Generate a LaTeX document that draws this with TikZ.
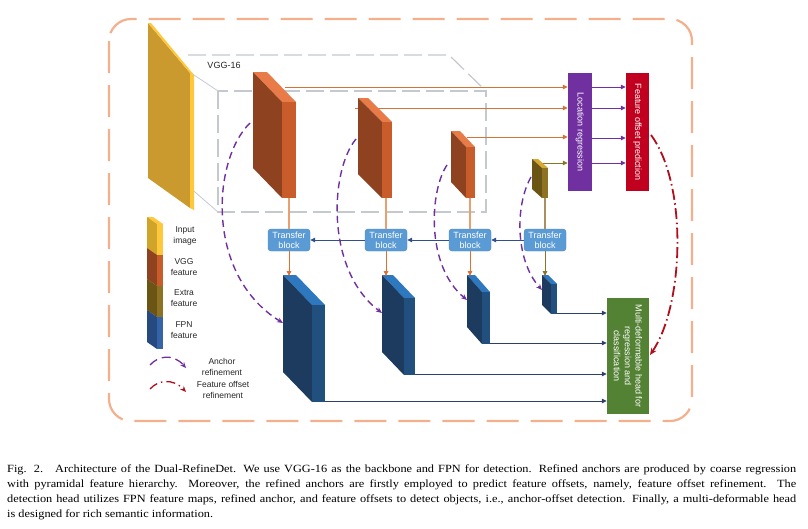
\documentclass[tikz,border=0pt]{standalone}
\usepackage{fontspec}
\setmainfont{Liberation Serif}
\setsansfont{Liberation Sans}
\newfontfamily\capfont[FakeStretch=1.12]{Liberation Serif}
\usetikzlibrary{arrows.meta}
\definecolor{vggF}{HTML}{8E4220}
\definecolor{vggS}{HTML}{C85C2A}
\definecolor{vggT}{HTML}{E87B48}
\definecolor{extF}{HTML}{6B5514}
\definecolor{extS}{HTML}{8C7222}
\definecolor{extT}{HTML}{D9A830}
\definecolor{fpnF}{HTML}{1C3B5E}
\definecolor{fpnS}{HTML}{21507F}
\definecolor{fpnT}{HTML}{2E78C0}
\definecolor{legB}{HTML}{26497F}
\definecolor{legBS}{HTML}{3565A8}
\definecolor{inF}{HTML}{CA9A2E}
\definecolor{inS}{HTML}{FFC83A}
\definecolor{outerC}{HTML}{F4B08C}
\definecolor{cubeC}{HTML}{C4C9D0}
\definecolor{orL}{HTML}{D2733A}
\definecolor{orV}{HTML}{E8A070}
\definecolor{orA}{HTML}{E07030}
\definecolor{oliveL}{HTML}{8C7426}
\definecolor{oliveV}{HTML}{A89060}
\definecolor{tbC}{HTML}{5B9BD5}
\definecolor{navyL}{HTML}{2F4F8F}
\definecolor{headL}{HTML}{2E3F6A}
\definecolor{purp}{HTML}{7030A0}
\definecolor{redC}{HTML}{C0001E}
\definecolor{redL}{HTML}{B0101E}
\definecolor{greenC}{HTML}{548235}
\newcommand{\fblk}[8]{%
  \fill[#8T] (#2,#5) -- (#2+#4,#5) -- (#3+#4,#5+#7) -- (#3,#5+#7) -- cycle;
  \fill[#8F] (#2,#5) -- (#3,#5+#7) -- (#3,#6+#7) -- (#2,#6) -- cycle;
  \fill[#8S] (#3,#5+#7) -- (#3+#4,#5+#7) -- (#3+#4,#6+#7) -- (#3,#6+#7) -- cycle;
  \coordinate (#1-bot) at (#3+#4/2,#6+#7);
  \coordinate (#1-top) at (#2+#4/2,#5+1);
  \coordinate (#1-br) at (#3+#4,#6+#7-1);
}
\tikzset{
  arr/.style={-{Triangle[length=5pt,width=4.5pt]}},
  outer/.style={draw=outerC, line width=2.2pt, dash pattern=on 32pt off 12pt, rounded corners=22pt},
  cube/.style={draw=cubeC, line width=1.2pt, dash pattern=on 18pt off 6pt},
  tbox/.style={rounded corners=3pt, fill=tbC, draw=tbC!85!black, line width=0.4pt, text=white, align=center,
    minimum width=42pt, minimum height=22pt, inner sep=0pt, font=\sffamily\fontsize{9}{10}\selectfont},
  rbox/.style={minimum width=24pt, minimum height=118pt, inner sep=0pt},
  rtxt/.style={rotate=-90, text=white, align=center, inner sep=0pt, font=\sffamily\fontsize{9}{10.8}\selectfont},
  lab/.style={align=center, inner sep=0pt, font=\sffamily\fontsize{8.5}{10.5}\selectfont, text=black!85},
  anch/.style={draw=purp, line width=1.4pt, dash pattern=on 7pt off 4.5pt, -{Stealth[length=6pt,width=5pt]}},
  offs/.style={draw=redL, line width=1.8pt, dash pattern=on 11pt off 3.5pt on 1.5pt off 3.5pt, -{Stealth[length=7pt,width=6pt]}}
}
\begin{document}
\begin{tikzpicture}[x=1pt,y=-1pt]
\useasboundingbox (0,0) rectangle (808,528);
\fill[white] (0,0) rectangle (808,528);
% outer dashed frame
\draw[outer] (109,19) rectangle (692,421);
% VGG-16 cube
\draw[cube] (218,91) rectangle (486,212);
\draw[cube] (188,55) -- (449,55) -- (486,91);
\draw[cubeC, line width=0.8pt] (188,71) -- (218,91);
\draw[cubeC, line width=0.8pt] (188,186) -- (218,212);
\node[lab, font=\sffamily\fontsize{9}{10}\selectfont] (vgglab) at (224,65) {VGG-16};
% input image
\fill[inF] (148,23) -- (190,73) -- (190,208) -- (148,178) -- cycle;
\fill[inS] (190,73) -- (194,75) -- (194,210) -- (190,208) -- cycle;
\fill[inS] (148,23) -- (151,23) -- (194,75) -- (190,73) -- cycle;
% boxes
\node[rbox, fill=purp] (loc) at (580,132) {};
\node[rtxt] at (loc.center) {Location regression};
\node[rbox, fill=redC, minimum width=23pt] (fo) at (637.5,132) {};
\node[rtxt] at (fo.center) {Feature offset prediction};
\node[rbox, fill=greenC, minimum width=42pt, minimum height=116pt] (head) at (628,356) {};
\node[rtxt] at (head.center) {Multi-deformable head for\\regression and\\classification};
% horizontal lines to location regression
\coordinate (o1) at (285,87);
\coordinate (o2) at (355,108);
\coordinate (o3) at (467,137);
\coordinate (o4) at (542,163);
\draw[orL, line width=1pt, arr] (o1) -- (o1 -| loc.west);
\draw[orL, line width=1pt, arr] (o2) -- (o2 -| loc.west);
\draw[orL, line width=1pt, arr] (o3) -- (o3 -| loc.west);
\draw[oliveL, line width=1pt, arr] (o4) -- (o4 -| loc.west);
\foreach \yy in {87,108,138,163}{
  \draw[purp, line width=1pt, arr] (loc.east |- 0,\yy) -- (fo.west |- 0,\yy);
}
% VGG blocks and extra block
\fblk{b1}{253}{282}{14}{72}{168}{30}{vgg}
\fblk{b2}{358}{382}{10}{98}{174}{24}{vgg}
\fblk{b3}{451}{466}{9}{131}{182}{16}{vgg}
\fblk{b4}{532}{542}{6}{159}{189}{9}{ext}
% FPN blocks
\fblk{f1}{283}{312}{13}{275}{372}{30}{fpn}
\fblk{f2}{382}{404}{11}{275}{352}{23}{fpn}
\fblk{f3}{467}{482}{8}{275}{327}{17}{fpn}
\fblk{f4}{542}{551}{6}{275}{305}{9}{fpn}
% transfer blocks
\node[tbox] (t1) at (289,240) {Transfer\\block};
\node[tbox] (t2) at (386,240) {Transfer\\block};
\node[tbox] (t3) at (470,240) {Transfer\\block};
\node[tbox] (t4) at (545,240) {Transfer\\block};
\draw[orV, line width=1.2pt] (t1.north |- b1-bot) -- (t1.north);
\draw[orV, line width=1.2pt] (t2.north |- b2-bot) -- (t2.north);
\draw[orV, line width=1.2pt] (t3.north |- b3-bot) -- (t3.north);
\draw[oliveV, line width=1.2pt] (t4.north |- b4-bot) -- (t4.north);
\draw[orA, line width=1pt, arr] (t1.south) -- (t1.south |- f1-top);
\draw[orA, line width=1pt, arr] (t2.south) -- (t2.south |- f2-top);
\draw[orA, line width=1pt, arr] (t3.south) -- (t3.south |- f3-top);
\draw[oliveL, line width=1pt, arr] (t4.south) -- (t4.south |- f4-top);
\draw[navyL, line width=1pt, arr] (t4.west) -- (t3.east);
\draw[navyL, line width=1pt, arr] (t3.west) -- (t2.east);
\draw[navyL, line width=1pt, arr] (t2.west) -- (t1.east);
% FPN to head
\draw[headL, line width=1pt, arr] (f4-br) -- (f4-br -| head.west);
\draw[headL, line width=1pt, arr] (f3-br) -- (f3-br -| head.west);
\draw[headL, line width=1pt, arr] (f2-br) -- (f2-br -| head.west);
\draw[headL, line width=1pt, arr] (f1-br) -- (f1-br -| head.west);
% anchor refinement curves
\coordinate (a1s) at (250,123); \coordinate (a1e) at (283,323);
\coordinate (a2s) at (356,139); \coordinate (a2e) at (382,313);
\coordinate (a3s) at (447,165); \coordinate (a3e) at (467,300);
\coordinate (a4s) at (531,177); \coordinate (a4e) at (542,290);
\draw[anch] (a1s) .. controls (212,160) and (205,275) .. (a1e);
\draw[anch] (a2s) .. controls (330,170) and (325,270) .. (a2e);
\draw[anch] (a3s) .. controls (430,190) and (425,265) .. (a3e);
\draw[anch] (a4s) .. controls (515,205) and (515,260) .. (a4e);
% feature offset refinement curve
\coordinate (rs) at (651,135); \coordinate (re) at (650,355);
\draw[offs] (rs) .. controls (688,185) and (684,305) .. (re);
% legend column
\fill[inS] (147,217) -- (153,217) -- (163,224) -- (157,224) -- cycle;
\fill[inF!90!yellow] (147,217) -- (157,224) -- (157,255) -- (147,248) -- cycle;
\fill[inS] (157,224) -- (163,224) -- (163,255) -- (157,255) -- cycle;
\fill[vggF] (147,248) -- (157,255) -- (157,286) -- (147,279) -- cycle;
\fill[vggS] (157,255) -- (163,255) -- (163,286) -- (157,286) -- cycle;
\fill[extF] (147,279) -- (157,286) -- (157,317) -- (147,310) -- cycle;
\fill[extS] (157,286) -- (163,286) -- (163,317) -- (157,317) -- cycle;
\fill[legB] (147,310) -- (157,317) -- (157,349) -- (147,342) -- cycle;
\fill[legBS] (157,317) -- (163,317) -- (163,349) -- (157,349) -- cycle;
\node[lab] (l1) at (185,236) {Input\\image};
\node[lab] (l2) at (184,267) {VGG\\feature};
\node[lab] (l3) at (184,298) {Extra\\feature};
\node[lab] (l4) at (184,330) {FPN\\feature};
\coordinate (p1) at (150,365); \coordinate (p2) at (186,368);
\draw[anch, line width=1.3pt, dash pattern=on 9pt off 5pt] (p1) .. controls (158,356) and (173,353) .. (p2);
\node[lab] (l5) at (222,367) {Anchor\\refinement};
\coordinate (q1) at (150,389); \coordinate (q2) at (186,392);
\draw[offs, line width=1.3pt, dash pattern=on 9pt off 4pt on 1.5pt off 4pt, -{Stealth[length=6pt,width=5pt]}] (q1) .. controls (158,380) and (173,378) .. (q2);
\node[lab] (l6) at (223,390) {Feature offset\\refinement};
% caption
\node[anchor=north west, text width=789pt, align=justify, inner sep=0pt,
  font=\capfont\fontsize{11}{15}\selectfont] (cap) at (7,464.5) {Fig. 2.\hspace{12pt}Architecture of the Dual-RefineDet. We use VGG-16 as the backbone and FPN for detection. Refined anchors are produced by coarse regression\linebreak
with pyramidal feature hierarchy. Moreover, the refined anchors are firstly employed to predict feature offsets, namely, feature offset refinement. The\linebreak
detection head utilizes FPN feature maps, refined anchor, and feature offsets to detect objects, i.e., anchor-offset detection. Finally, a multi-deformable head\linebreak
is designed for rich semantic information.};
\end{tikzpicture}
\end{document}
